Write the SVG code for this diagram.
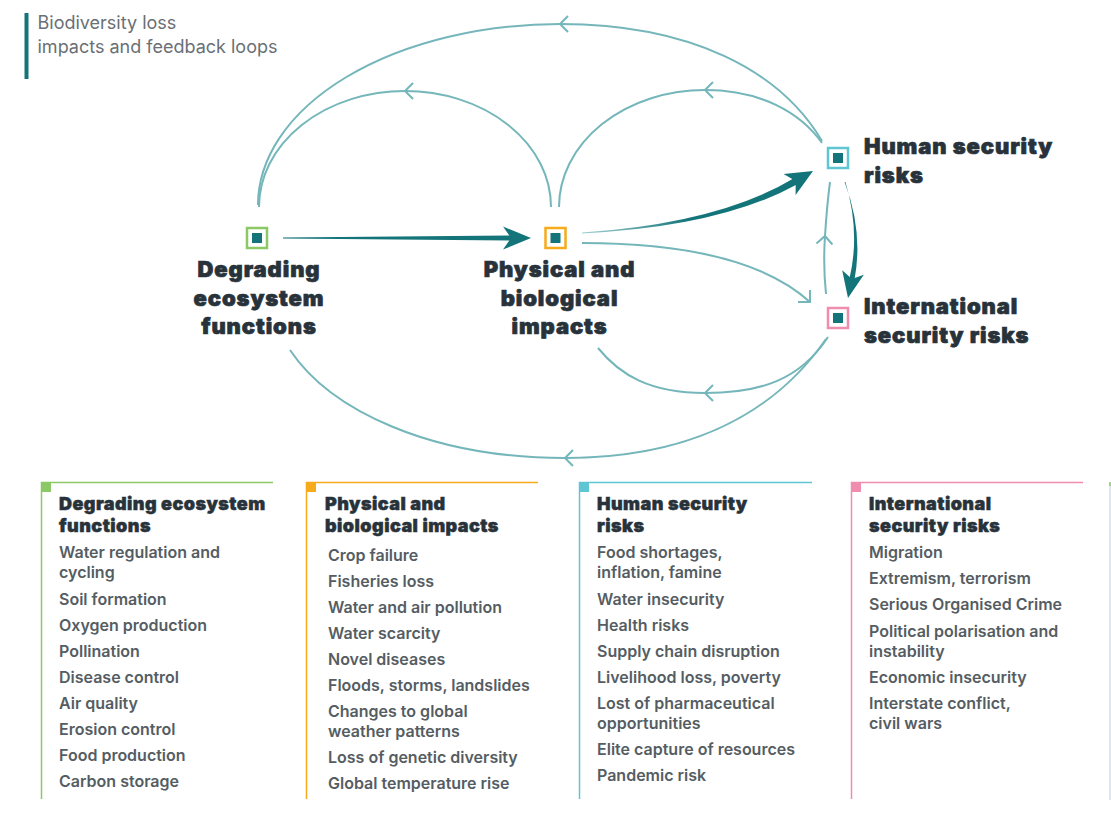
<svg xmlns="http://www.w3.org/2000/svg" width="1111" height="825" viewBox="0 0 1111 825">
<style>
.title{font-family:Inter,Roboto,"Liberation Sans",sans-serif;font-size:18px;fill:#6a7075;font-weight:400}
.lbl{font-family:Inter,Roboto,"Liberation Sans",sans-serif;font-size:22px;font-weight:900;fill:#28323a;stroke:#28323a;stroke-width:0.7;letter-spacing:0.9px}
.hd{font-family:Inter,Roboto,"Liberation Sans",sans-serif;font-size:18px;font-weight:900;fill:#28323a;stroke:#28323a;stroke-width:0.5;letter-spacing:0.45px}
.it{font-family:Inter,Roboto,"Liberation Sans",sans-serif;font-size:16px;font-weight:600;fill:#555d63}
.thin{fill:none;stroke:#74b6ba;stroke-width:2}
.thick{fill:#137479}
.inner{fill:#137479}
</style>
<defs>
<marker id="chev" markerUnits="userSpaceOnUse" markerWidth="24" markerHeight="24" refX="12" refY="12" orient="auto" viewBox="0 0 24 24">
<path d="M4,4 L12,12 L4,20" fill="none" stroke="#74b6ba" stroke-width="2"/>
</marker>
<linearGradient id="g1" gradientUnits="userSpaceOnUse" x1="283" y1="0" x2="420" y2="0">
<stop offset="0" stop-color="#9fcfd1"/><stop offset="1" stop-color="#137479"/>
</linearGradient>
<linearGradient id="g2" gradientUnits="userSpaceOnUse" x1="582" y1="0" x2="690" y2="0">
<stop offset="0" stop-color="#9fcfd1"/><stop offset="1" stop-color="#137479"/>
</linearGradient>
<linearGradient id="g4" gradientUnits="userSpaceOnUse" x1="582" y1="0" x2="680" y2="0">
<stop offset="0" stop-color="#ffffff"/><stop offset="1" stop-color="#74b6ba"/>
</linearGradient>
</defs>

<g id="title">
<rect x="24.5" y="13" width="4" height="66" fill="#137479"/>
<text class="title" x="37.5" y="29">Biodiversity loss</text>
<text class="title" x="37.5" y="53">impacts and feedback loops</text>
</g>

<g id="connectors">
<path class="thick" fill="url(#g1)" d="M283,237.6 L512,235.5 L512,240.5 L283,238.4 Z"/>
<path class="thick" d="M531,238 L503,226.5 L511,238 L503,249.5 Z"/>
<path fill="url(#g2)" d="M582,232.6 Q719.4,223.2 794.3,178 L797.8,184 Q720.6,226.8 582,233.4 Z"/>
<path class="thick" d="M813,171 L783.6,174.1 L795.7,181 L795.6,194.9 Z"/>
<path class="thick" d="M844.6,182 Q863.5,232 854.5,279.5 L849.5,278.5 Q860.5,232 845.4,182 Z"/>
<path class="thick" d="M848,298 L842.2,270.3 L852,279 L863.8,274.7 Z"/>
<path class="thin" stroke="url(#g4)" d="M582,243 Q745,243 810,302"/>
<path d="M798,302 L810,302 L810,290" fill="none" stroke="#74b6ba" stroke-width="2"/>
<path class="thin" marker-end="url(#chev)" d="M826,294 Q823,265 825,236"/>
<path class="thin" d="M825,236 Q827,205 830,182"/>
<path class="thin" marker-end="url(#chev)" d="M822,141 C780,70 690,24 560,24"/>
<path class="thin" d="M560,24 A302 181 0 0 0 258,205"/>
<path class="thin" marker-end="url(#chev)" d="M822,143 C800,112 760,90 705,90"/>
<path class="thin" d="M705,90 A146 117 0 0 0 559,207"/>
<path class="thin" marker-end="url(#chev)" d="M551,207 A146 116 0 0 0 405,91"/>
<path class="thin" d="M405,91 A146 116 0 0 0 259,207"/>
<path class="thin" marker-end="url(#chev)" d="M828,337 C800,380 760,393 705,393"/>
<path class="thin" d="M705,393 C650,393 620,375 598,348"/>
<path class="thin" marker-end="url(#chev)" d="M826,339 C770,420 680,458 565,458"/>
<path class="thin" d="M565,458 C430,458 330,410 290,350"/>
</g>

<g id="node-degrading">
<rect x="247" y="228" width="20" height="20" fill="#fff" stroke="#8cc866" stroke-width="2.5"/>
<rect class="inner" x="252" y="233" width="10" height="10"/>
<text class="lbl" text-anchor="middle" x="259" y="277">Degrading</text>
<text class="lbl" text-anchor="middle" x="259" y="305.5">ecosystem</text>
<text class="lbl" text-anchor="middle" x="259" y="334">functions</text>
</g>

<g id="node-physical">
<rect x="545.5" y="228" width="20" height="20" fill="#fff" stroke="#f5ab1b" stroke-width="2.5"/>
<rect class="inner" x="550.5" y="233" width="10" height="10"/>
<text class="lbl" text-anchor="middle" x="559.5" y="277">Physical and</text>
<text class="lbl" text-anchor="middle" x="559.5" y="305.5">biological</text>
<text class="lbl" text-anchor="middle" x="559.5" y="334">impacts</text>
</g>

<g id="node-human">
<rect x="828" y="148" width="20" height="20" fill="#fff" stroke="#5fc5d3" stroke-width="2.5"/>
<rect class="inner" x="833" y="153" width="10" height="10"/>
<text class="lbl" x="864" y="154">Human security</text>
<text class="lbl" x="864" y="182.5">risks</text>
</g>

<g id="node-international">
<rect x="828" y="308" width="20" height="20" fill="#fff" stroke="#f08daf" stroke-width="2.5"/>
<rect class="inner" x="833" y="313" width="10" height="10"/>
<text class="lbl" x="864" y="314">International</text>
<text class="lbl" x="864" y="342.5">security risks</text>
</g>

<g id="panel-degrading">
<path d="M41.5,799 L41.5,482.5 L273,482.5" fill="none" stroke="#8cc866" stroke-width="1.5"/>
<rect x="41" y="482" width="10" height="10" fill="#8cc866"/>
<text class="hd" x="59" y="510">Degrading ecosystem</text>
<text class="hd" x="59" y="532">functions</text>
<text class="it" x="59" y="558">Water regulation and</text>
<text class="it" x="59" y="578">cycling</text>
<text class="it" x="59" y="605">Soil formation</text>
<text class="it" x="59" y="631">Oxygen production</text>
<text class="it" x="59" y="657">Pollination</text>
<text class="it" x="59" y="683">Disease control</text>
<text class="it" x="59" y="709">Air quality</text>
<text class="it" x="59" y="735">Erosion control</text>
<text class="it" x="59" y="761">Food production</text>
<text class="it" x="59" y="787">Carbon storage</text>
</g>

<g id="panel-physical">
<path d="M306.5,799 L306.5,482.5 L538,482.5" fill="none" stroke="#f5ab1b" stroke-width="1.5"/>
<rect x="306" y="482" width="10" height="10" fill="#f5ab1b"/>
<text class="hd" x="325" y="510">Physical and</text>
<text class="hd" x="325" y="532">biological impacts</text>
<text class="it" x="328" y="561">Crop failure</text>
<text class="it" x="328" y="587">Fisheries loss</text>
<text class="it" x="328" y="613">Water and air pollution</text>
<text class="it" x="328" y="639">Water scarcity</text>
<text class="it" x="328" y="665">Novel diseases</text>
<text class="it" x="328" y="691">Floods, storms, landslides</text>
<text class="it" x="328" y="717">Changes to global</text>
<text class="it" x="328" y="737">weather patterns</text>
<text class="it" x="328" y="763">Loss of genetic diversity</text>
<text class="it" x="328" y="789">Global temperature rise</text>
</g>

<g id="panel-human">
<path d="M579.5,799 L579.5,482.5 L812,482.5" fill="none" stroke="#5fc5d3" stroke-width="1.5"/>
<rect x="579" y="482" width="10" height="10" fill="#5fc5d3"/>
<text class="hd" x="597" y="510">Human security</text>
<text class="hd" x="597" y="532">risks</text>
<text class="it" x="597" y="558">Food shortages,</text>
<text class="it" x="597" y="578">inflation, famine</text>
<text class="it" x="597" y="605">Water insecurity</text>
<text class="it" x="597" y="631">Health risks</text>
<text class="it" x="597" y="657">Supply chain disruption</text>
<text class="it" x="597" y="683">Livelihood loss, poverty</text>
<text class="it" x="597" y="709">Lost of pharmaceutical</text>
<text class="it" x="597" y="729">opportunities</text>
<text class="it" x="597" y="755">Elite capture of resources</text>
<text class="it" x="597" y="781">Pandemic risk</text>
</g>

<g id="panel-international">
<path d="M851.5,799 L851.5,482.5 L1083,482.5" fill="none" stroke="#f08daf" stroke-width="1.5"/>
<rect x="851" y="482" width="10" height="10" fill="#f08daf"/>
<text class="hd" x="869" y="510">International</text>
<text class="hd" x="869" y="532">security risks</text>
<text class="it" x="869" y="558">Migration</text>
<text class="it" x="869" y="584">Extremism, terrorism</text>
<text class="it" x="869" y="610">Serious Organised Crime</text>
<text class="it" x="869" y="637">Political polarisation and</text>
<text class="it" x="869" y="657">instability</text>
<text class="it" x="869" y="683">Economic insecurity</text>
<text class="it" x="869" y="709">Interstate conflict,</text>
<text class="it" x="869" y="729">civil wars</text>
</g>

<g id="edge-strip">
<line x1="1110" y1="483" x2="1110" y2="800" stroke="#d3dee8" stroke-width="1.5"/>
<line x1="1110" y1="482" x2="1110" y2="486" stroke="#8cc866" stroke-width="1.5"/>
</g>
</svg>
